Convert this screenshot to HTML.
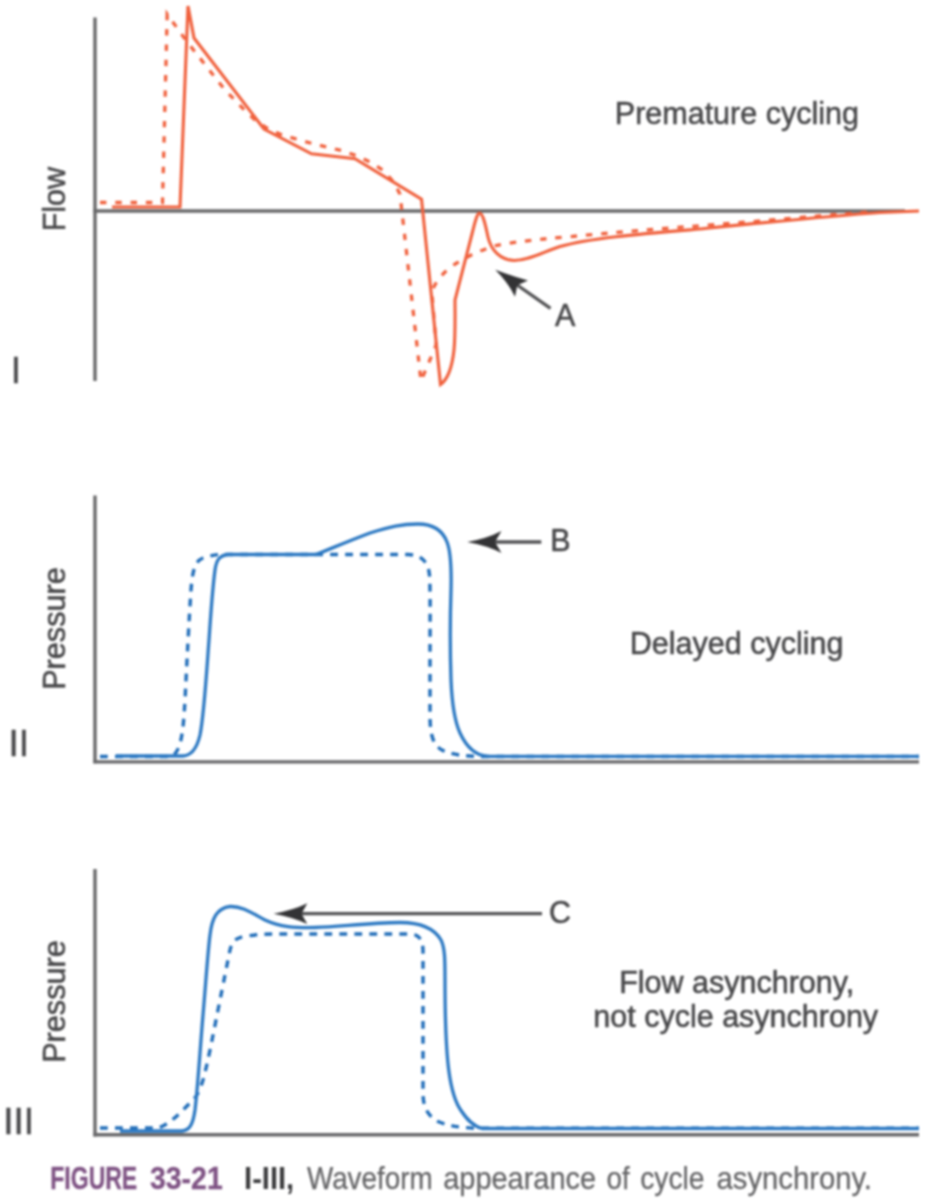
<!DOCTYPE html>
<html>
<head>
<meta charset="utf-8">
<title>Figure 33-21</title>
<style>
html,body{margin:0;padding:0;background:#fff;}
body{width:936px;height:1200px;overflow:hidden;font-family:"Liberation Sans",sans-serif;}
svg{display:block;filter:blur(0.8px);}
text{font-family:"Liberation Sans",sans-serif;}
.lbl{font-size:30.5px;fill:#48484a;stroke:#48484a;stroke-width:0.55;}
.rom{font-size:37px;fill:#48484a;stroke:#48484a;stroke-width:0.45;}
.ax{stroke:#68686a;stroke-width:3.4;fill:none;stroke-linecap:butt;}
.os{stroke:#f0603c;stroke-width:3.1;fill:none;stroke-linejoin:miter;stroke-linecap:butt;}
.od{stroke:#f0603c;stroke-width:3.3;fill:none;stroke-dasharray:6.4 8.9;}
.bs{stroke:#2b78c2;stroke-width:3.3;fill:none;stroke-linejoin:round;}
.bd{stroke:#1f6cb8;stroke-width:3.4;fill:none;stroke-dasharray:7.8 7.2;}
.ar{stroke:#525254;stroke-width:3.3;fill:none;}
.ah{fill:#333335;stroke:none;}
</style>
</head>
<body>
<svg width="936" height="1200" viewBox="0 0 936 1200">
<g id="all">
<!-- ===== Panel I ===== -->
<path class="ax" d="M95 17.5V381"/>
<path class="ax" d="M93.4 211H905"/>
<path class="od" d="M100 202.5H162.5L167.2 14.2L186 40.4L224.800 89.7L245.700 111.4L254.700 119.7L266 127.5L283 135.4L314 144L343.3 151L356.7 155.8L371.2 162.5L384 171L394.2 182.7L400 194.2L421 381L436.2 345L431.8 292C435 282 444 271 456 263.5C468 256 480 250.5 496 245.5C520 240.5 560 237.5 600 234C650 229 700 226 760 221C800 217.5 840 214 870 212"/>
<path class="os" d="M112 207H180L188 6L194 38L264 129L311.5 153.8L355 158.8L421.5 199.2L440.5 384.5C447 380 452 368 454 350C455.5 335 455 315 455 300L472.5 232C475 222 477 213.5 479.5 213C483 213.5 485.5 225 488 237C491 250 500 260 514 260.5C530 260.5 545 251 560 246.5C590 238 640 234 694 229.5C760 223 830 216 880 212.5L919 211"/>
<!-- arrow A -->
<path class="ar" d="M515 283.5L550.500 308.3"/>
<path class="ah" d="M495.2 269.7Q513.5 276.5 528 280.6L517.3 285.2L515 296.8Q509 283.5 495.2 269.7Z"/>
<text class="lbl" x="554.9" y="325.8">A</text>
<text class="lbl" x="614.8" y="124">Premature cycling</text>
<text class="lbl" transform="translate(64.8 231.3) rotate(-90)">Flow</text>
<text class="rom" x="10.8" y="383">I</text>

<!-- ===== Panel II ===== -->
<path class="ax" d="M95 495.5V763.2"/>
<path class="ax" d="M93.4 761.8H919" style="stroke-width:3.2"/>
<path class="bd" d="M100 756.5H172C181 750 183 735 185 700C187 660 189 620 191 590C192.5 570 195 561 203 558C210 555.5 216 554.5 222 554.5H408C420 555 428 560 429.5 575C430.5 590 430 620 430 660V715C430 735 433 745 442 750C452 755 465 756.4 485 756.5H919"/>
<path class="bs" d="M116 756H183C192 755.5 197 748 200 735C204 715 206 680 209 640C211 610 213 585 215 570C216.500 559 220 555.5 228 554.5H316C330 549 350 540.5 370 533C390 526.500 402 524 418 524C432 524 442 529 447 542C451 552 451.500 570 451 590C450 620 450 650 451 680C452 705 455 722 460 733C466 746 474 755.5 488 756.4H919"/>
<!-- arrow B -->
<path class="ar" d="M493 542H541.3"/>
<path class="ah" d="M467.2 542Q487 538.5 501.5 531L495 542L501.5 553Q487 545.5 467.2 542Z"/>
<text class="lbl" x="550.2" y="551">B</text>
<text class="lbl" x="629.8" y="654.4">Delayed cycling</text>
<text class="lbl" transform="translate(64.8 689.8) rotate(-90)" textLength="122.5" lengthAdjust="spacingAndGlyphs">Pressure</text>
<text class="rom" x="8.6" y="756.3">II</text>

<!-- ===== Panel III ===== -->
<path class="ax" d="M95 869V1136.5"/>
<path class="ax" d="M93.4 1134.7H919" style="stroke-width:3.6"/>
<path class="bd" d="M100 1128H158C170 1124 180 1113 190 1103C197 1097 200 1090 203 1080C208 1062 213 1035 218 1010C223 985 227 965 230 950C232 941 236 938 244 936.5C255 934.5 265 934 275 934H410C419 934.5 422.500 939 423 950V1095C423.5 1108 428 1116 438 1121.5C448 1125.5 458 1127.5 476 1128.3H919"/>
<path class="bs" d="M120 1131H182C190 1130 193 1124 195 1110C198 1085 200 1050 203 1015C206 980 208 950 210 935C212 918 217 908 230 906.5C242 906 252 913 265 920C280 927 295 928 315 927.500C340 926.500 370 923 400 922.500C420 922.500 434 928 441 940C445 948 445 960 445 980C445 1020 446 1050 449 1072C451.5 1090 455 1102 461 1110.5C466 1118 472 1126 482 1128.5H919"/>
<!-- arrow C -->
<path class="ar" d="M299 913.7H542"/>
<path class="ah" d="M273.600 913.7Q293 910.3 307.300 903.3L301.500 913.7L307.300 924.100Q293 917.100 273.600 913.7Z"/>
<text class="lbl" x="549" y="923">C</text>
<text class="lbl" x="619.2" y="993.3">Flow asynchrony,</text>
<text class="lbl" x="593.3" y="1027.3">not cycle asynchrony</text>
<text class="lbl" transform="translate(64.8 1062.8) rotate(-90)" textLength="122.5" lengthAdjust="spacingAndGlyphs">Pressure</text>
<text class="rom" x="3.2" y="1134.3">III</text>

<!-- ===== Caption ===== -->
<g font-size="31.5" lengthAdjust="spacingAndGlyphs">
<g font-weight="bold" fill="#7f5384" stroke="#7f5384" stroke-width="0.3">
<text x="50.3" y="1188.8" textLength="86.9" lengthAdjust="spacingAndGlyphs">FIGURE</text>
<text x="150" y="1188.8" textLength="72.7" lengthAdjust="spacingAndGlyphs">33-21</text>
</g>
<text x="244.1" y="1188.8" font-weight="bold" fill="#3c3c3e" textLength="50.1" lengthAdjust="spacingAndGlyphs">I-III,</text>
<g fill="#646466" stroke="#646466" stroke-width="0.25">
<text x="306.9" y="1188.8" textLength="125.8" lengthAdjust="spacingAndGlyphs">Waveform</text>
<text x="443.3" y="1188.8" textLength="152.7" lengthAdjust="spacingAndGlyphs">appearance</text>
<text x="606.6" y="1188.8" textLength="23.2" lengthAdjust="spacingAndGlyphs">of</text>
<text x="640.2" y="1188.8" textLength="64.3" lengthAdjust="spacingAndGlyphs">cycle</text>
<text x="716.5" y="1188.8" textLength="155.5" lengthAdjust="spacingAndGlyphs">asynchrony.</text>
</g>
</g>
</g>
</svg>
</body>
</html>
